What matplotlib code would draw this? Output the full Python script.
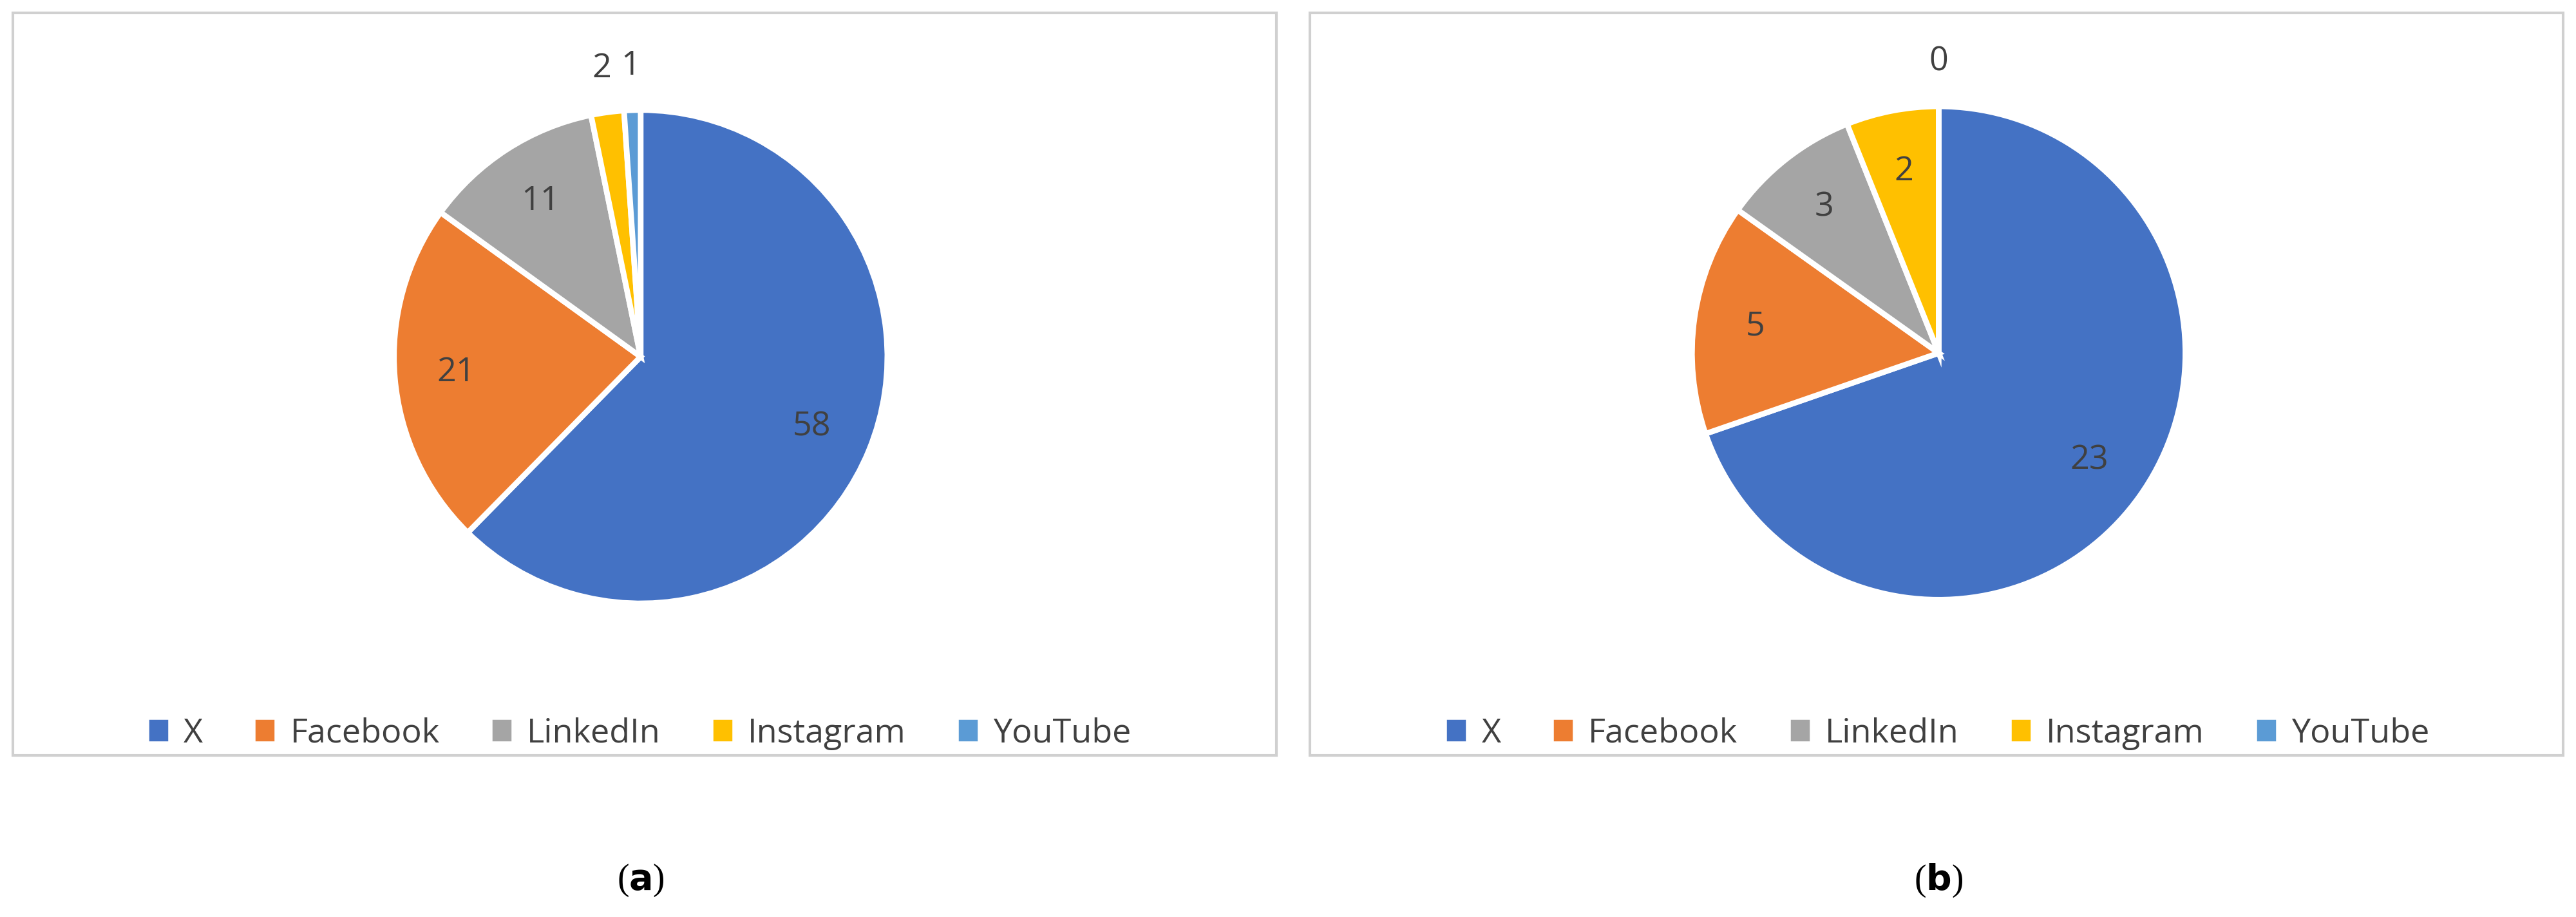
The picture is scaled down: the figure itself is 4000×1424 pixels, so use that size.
import numpy as np
import matplotlib.pyplot as plt
from matplotlib.patches import Patch, Rectangle

categories = ['X', 'Facebook', 'LinkedIn', 'Instagram', 'YouTube']
values_a = [58, 21, 11, 2, 1]
values_b = [23, 5, 3, 2, 0]
colors = ['#4472C4', '#ED7D31', '#A5A5A5', '#FFC000', '#5B9BD5']
txt = '#404040'

W, H = 16, 5.696
fig = plt.figure(figsize=(W, H), dpi=250)
plt.rcParams['font.family'] = ['Open Sans', 'DejaVu Sans']

def panel(x0, x1, cx, cy, values, caption):
    # gray frame around the panel
    fig.add_artist(Rectangle((x0, 0.176), x1 - x0, 0.81, transform=fig.transFigure,
                             fill=False, edgecolor='#D0D0D0', lw=1.2))
    r = 0.269 * H  # pie radius in inches
    w, h = 2 * r / W, 2 * r / H
    ax = fig.add_axes([cx - w / 2, cy - h / 2, w, h])
    wedges, _ = ax.pie(values, colors=colors, startangle=90, counterclock=False,
                       wedgeprops=dict(edgecolor='white', linewidth=2.5))
    ax.set_xlim(-1, 1)
    ax.set_ylim(-1, 1)
    ax.set_aspect('equal')
    ax.axis('off')
    total = sum(values)
    for wdg, v in zip(wedges, values):
        ang = np.deg2rad((wdg.theta1 + wdg.theta2) / 2)
        d = 1.18 if v / total < 0.03 else 0.75
        ax.text(d * np.cos(ang), d * np.sin(ang), str(v), ha='center', va='center',
                fontsize=15, color=txt, clip_on=False)
    handles = [Patch(color=c, label=l) for c, l in zip(colors, categories)]
    fig.legend(handles=handles, loc='center', bbox_to_anchor=(cx, 0.2), ncol=5,
               frameon=False, fontsize=15, handlelength=0.5, handleheight=0.5,
               handletextpad=0.5, columnspacing=1.6, labelcolor=txt)
    fig.text(cx, 0.04, caption, ha='center', va='center', fontsize=16,
             family='Liberation Serif')

panel(0.005, 0.4955, 0.2487, 0.611, values_a, '(a)')
panel(0.5085, 0.995, 0.7526, 0.615, values_b, '(b)')
fig.texts[0].set_text('(a)')

# bold letters in captions
for t in fig.texts:
    t.set_text('')
fig.text(0.2487, 0.04, r'($\mathbf{a}$)', ha='center', va='center', fontsize=16,
         family='Liberation Serif')
fig.text(0.7526, 0.04, r'($\mathbf{b}$)', ha='center', va='center', fontsize=16,
         family='Liberation Serif')

fig.savefig('out.png', dpi=250)
